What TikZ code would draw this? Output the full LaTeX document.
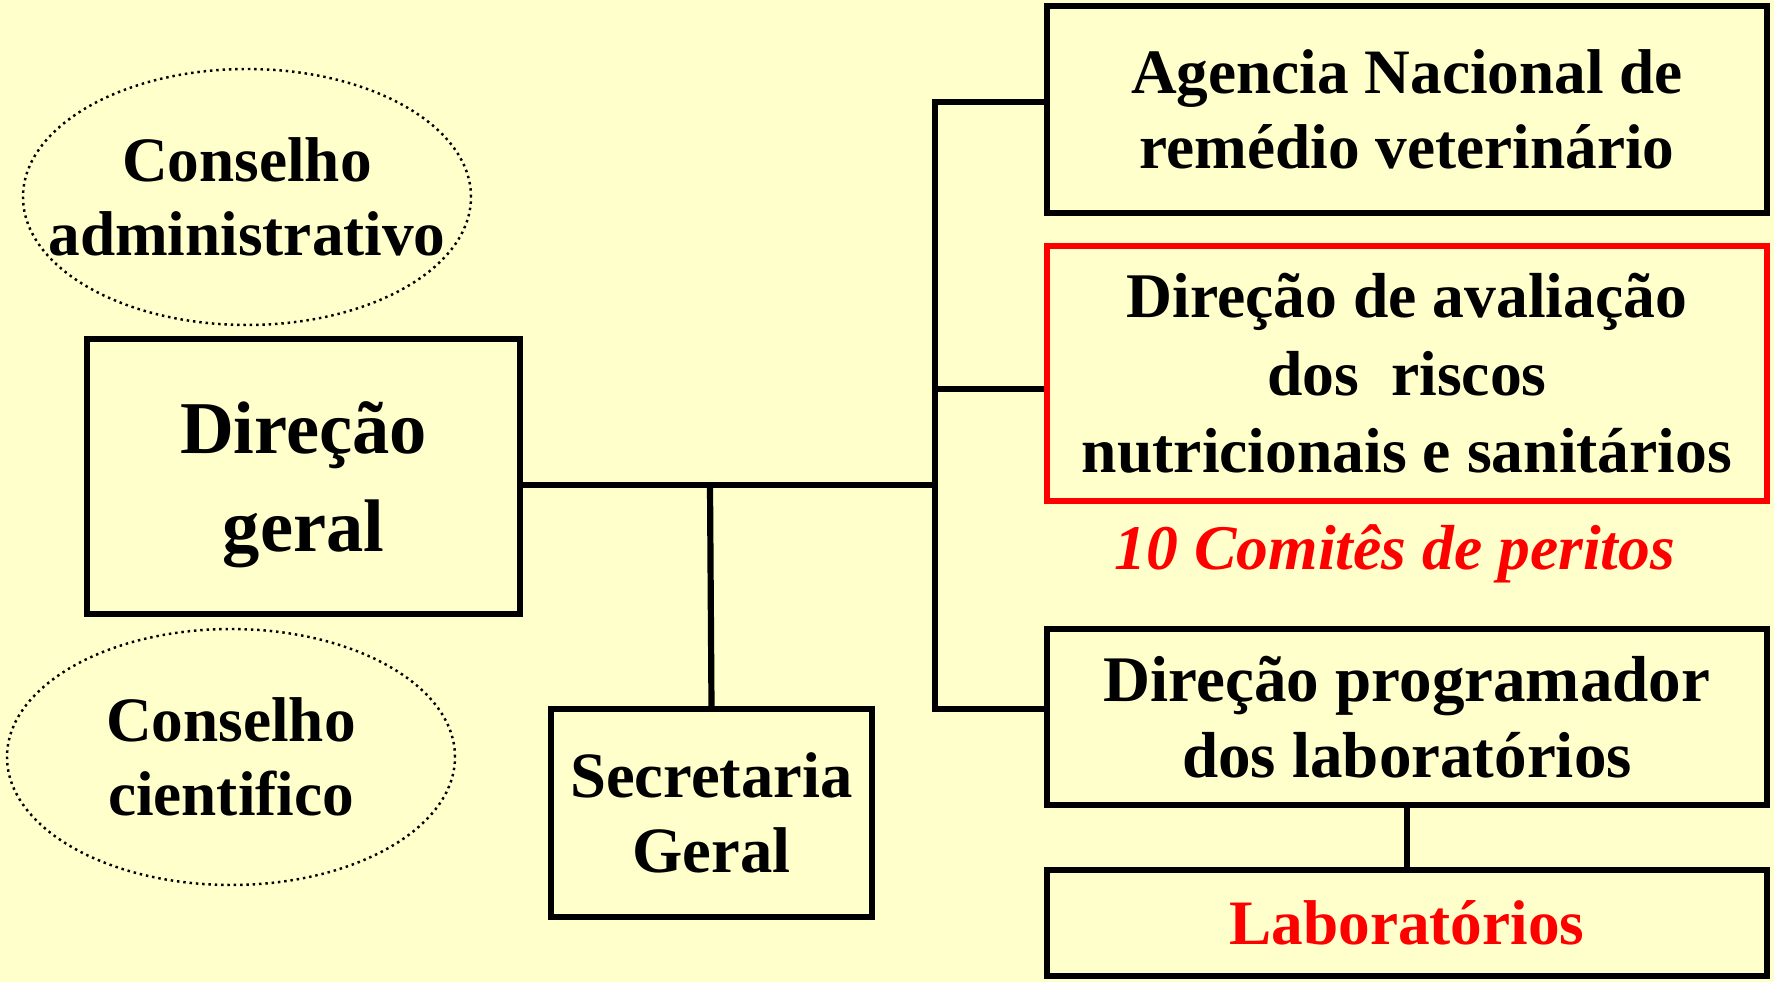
\documentclass[tikz,border=0pt]{standalone}
\usepackage{fontspec}
\setmainfont{Liberation Serif}
\usetikzlibrary{positioning,shapes.geometric}
\definecolor{fundo}{RGB}{255,255,204}
\definecolor{vermelho}{RGB}{255,0,0}

\begin{document}
\begin{tikzpicture}[
  box/.style={draw,line width=0.62mm,align=center,inner sep=0pt,font=\fontsize{18}{21.5}\selectfont\bfseries},
  linha/.style={line width=0.62mm},
  conselho/.style={ellipse,draw,line width=0.7pt,dash pattern=on 0.7pt off 1.1pt,inner sep=0pt,minimum width=4.48cm,minimum height=2.56cm},
  rotulo/.style={align=center,font=\fontsize{18}{21}\selectfont\bfseries}
]
\fill[fundo] (0,0) rectangle (17.74,-9.82);
\useasboundingbox (0,0) rectangle (17.74,-9.82);

\node[conselho] (cadm) at (2.47,-1.97) {};
\node[rotulo] (tadm) at (cadm) {Conselho\\administrativo};
\node[conselho] (ccie) at (2.31,-7.57) {};
\node[rotulo] (tcie) at (ccie) {Conselho\\cientifico};

\node[box,minimum width=4.33cm,minimum height=2.75cm] (dg) at (3.035,-4.765) {};
\node[rotulo,font=\fontsize{21.2}{28}\selectfont\bfseries] (tdg) at ([yshift=-0.8mm]dg.center) {Dire\c{c}\~ao\\geral};
\node[box,minimum width=3.21cm,minimum height=2.08cm,font=\fontsize{18.4}{21.5}\selectfont\bfseries] (sec) at (7.115,-8.13) {Secretaria\\Geral};

\node[box,minimum width=7.2cm,minimum height=2.07cm] (agn) at (14.07,-1.095) {Agencia Nacional de\\rem\'edio veterin\'ario};
\node[box,draw=vermelho,minimum width=7.2cm,minimum height=2.55cm,font=\fontsize{18.1}{22}\selectfont\bfseries] (dar) at (14.07,-3.735) {Dire\c{c}\~ao de avalia\c{c}\~ao\\dos\ \ riscos\\nutricionais e sanit\'arios};
\node[text=vermelho,font=\fontsize{18.1}{22}\selectfont\bfseries\itshape] (comites) at (13.95,-5.54) {10 Comit\^es de peritos};
\node[box,minimum width=7.2cm,minimum height=1.76cm,font=\fontsize{18.5}{21.5}\selectfont\bfseries] (dpl) at (14.07,-7.17) {Dire\c{c}\~ao programador\\dos laborat\'orios};
\node[box,minimum width=7.2cm,minimum height=1.06cm,text=vermelho,font=\fontsize{18}{22}\selectfont\bfseries] (lab) at (14.07,-9.23) {Laborat\'orios};

\coordinate (jsec) at (7.10,-4.85);
\coordinate (bus) at (9.35,-4.85);
\coordinate (topo) at (9.35,-1.02);
\coordinate (meio) at (9.35,-3.89);
\coordinate (base) at (9.35,-7.09);

\draw[linha] (dg.east |- jsec) -- (bus);
\draw[linha] (jsec) -- (sec.north);
\draw[linha] (agn.west |- topo) -- (topo) -- (base) -- (dpl.west |- base);
\draw[linha] (dar.west |- meio) -- (meio);
\draw[linha] (dpl.south) -- (lab.north);
\end{tikzpicture}
\end{document}
